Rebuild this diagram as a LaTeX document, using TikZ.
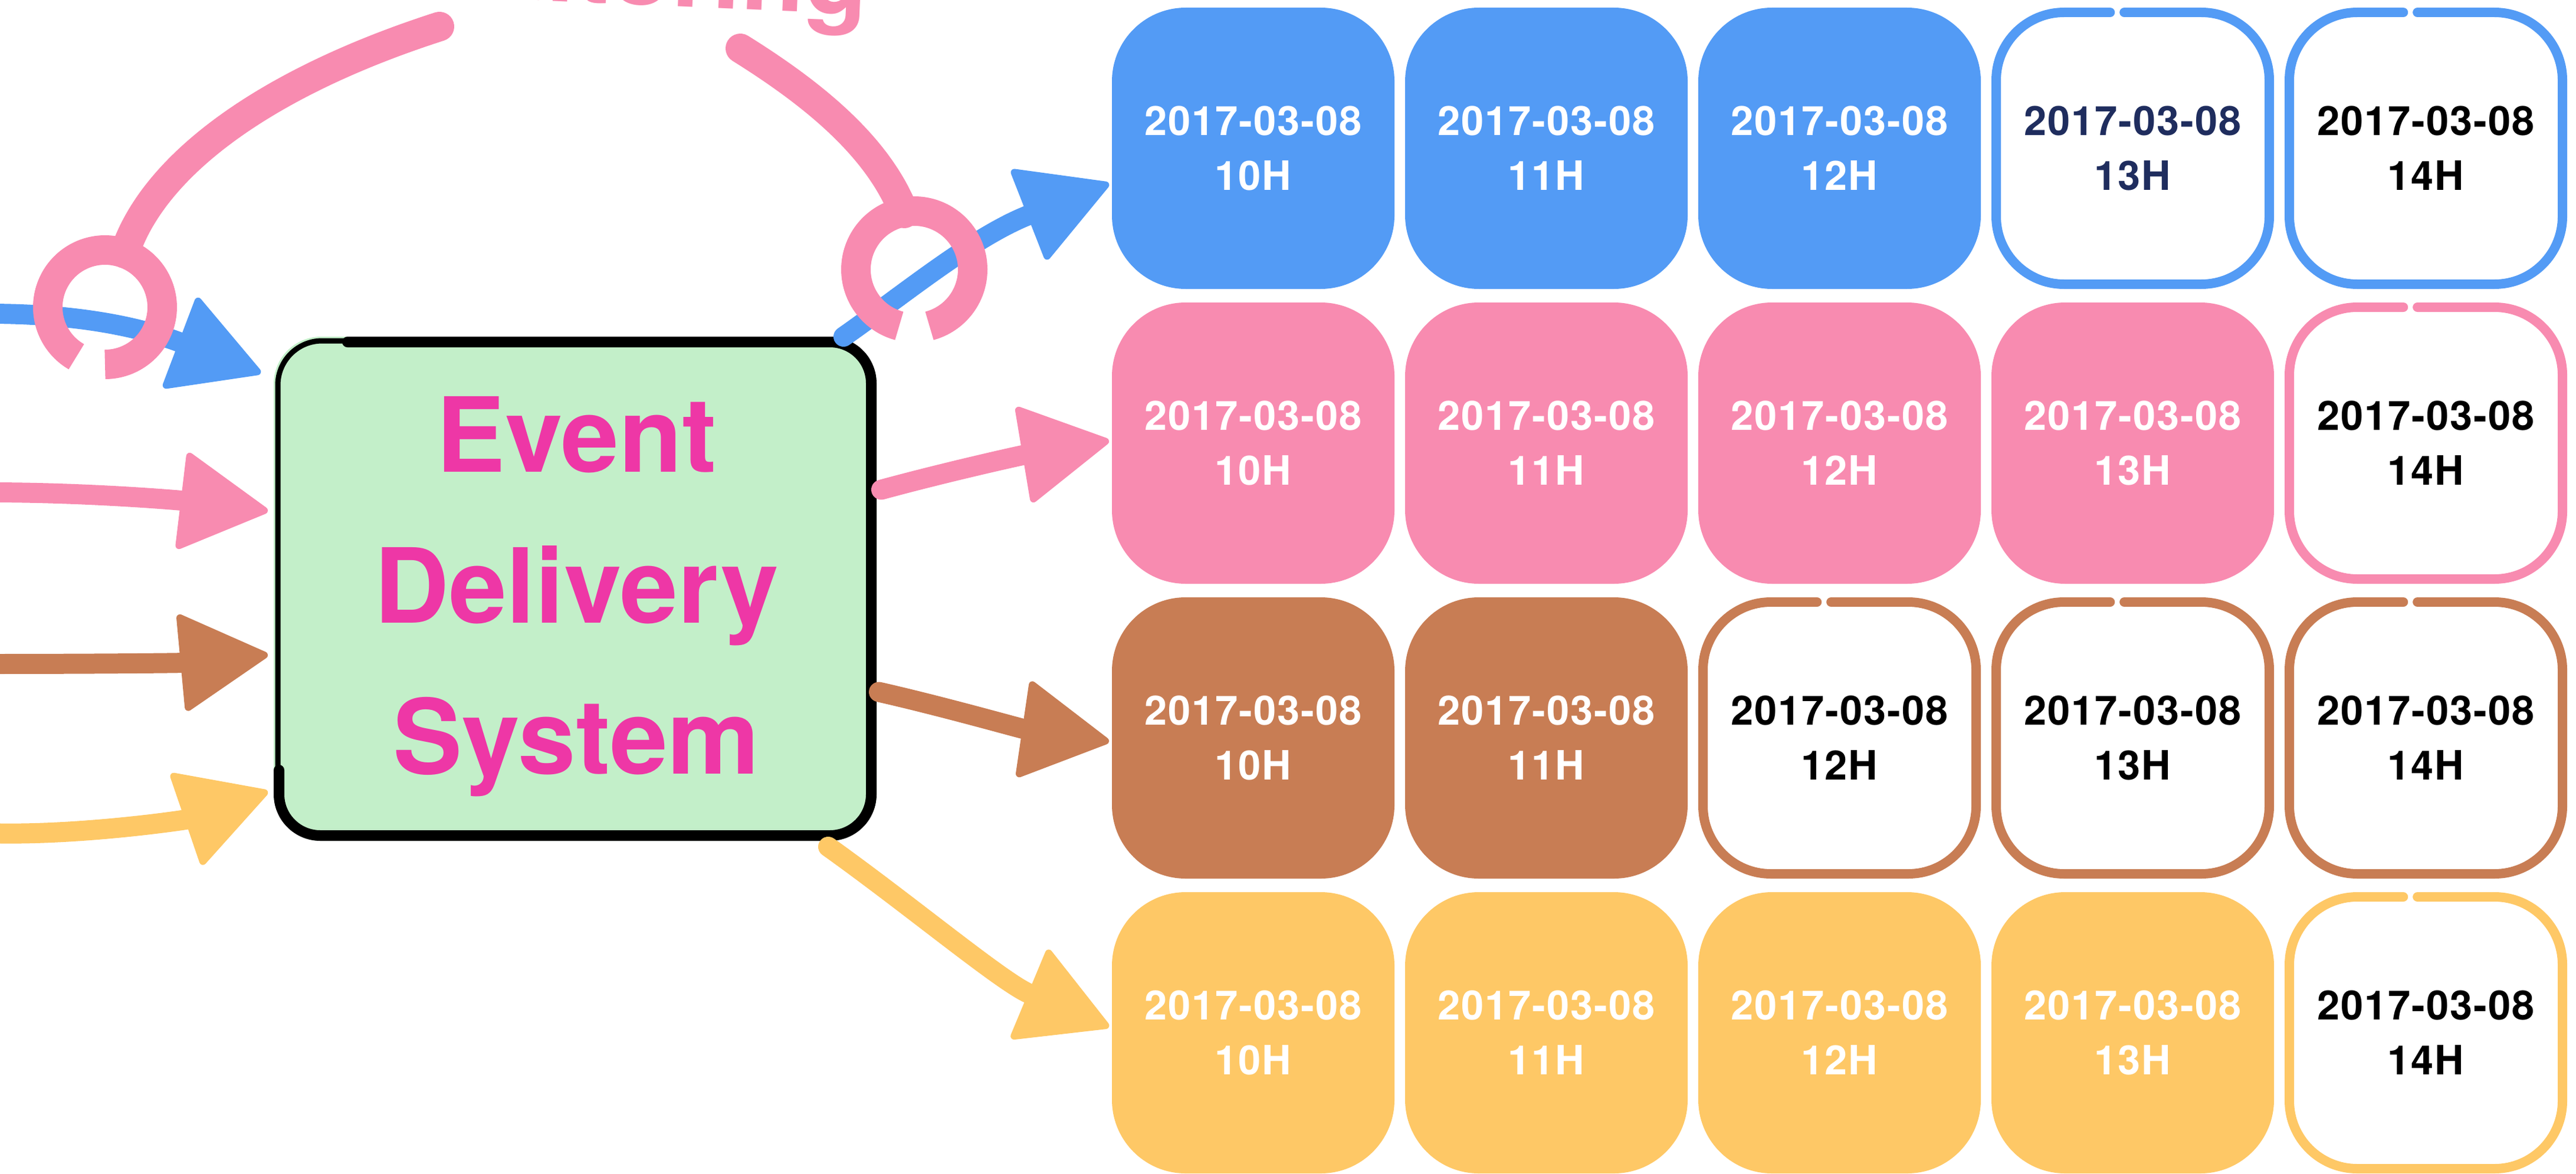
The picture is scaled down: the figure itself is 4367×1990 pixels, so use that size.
\documentclass[tikz,border=0pt]{standalone}
\usepackage{fontspec}
\setmainfont{TeX Gyre Heros}
\newfontfamily\tilefont{TeX Gyre Heros}[LetterSpace=3]
\usetikzlibrary{arrows.meta,calc}
\definecolor{cblue}{RGB}{83,155,245}
\definecolor{cpink}{RGB}{248,139,176}
\definecolor{cbrown}{RGB}{200,125,84}
\definecolor{cyellow}{RGB}{254,200,102}
\definecolor{cgreen}{RGB}{195,239,201}
\definecolor{cmagenta}{RGB}{238,55,166}
\definecolor{cnavy}{RGB}{31,45,94}
\newcommand\ftile[5]{\node[filledtile=#4] (#1) at (#2,#3) {2017-03-08\\#5};}
\newcommand\otile[6]{\node[opentile, text=#5] (#1) at (#2,#3) {2017-03-08\\#6};
  \draw[outline=#4] ($(#1.north west)!0.47!(#1.north east)+(0,8)$) -- ($(#1.north east)+(-8,8)$) -- ($(#1.south east)+(-8,-8)$) -- ($(#1.south west)+(8,-8)$) -- ($(#1.north west)+(8,8)$) -- ($(#1.north west)!0.42!(#1.north east)+(0,8)$);}
\begin{document}
\begin{tikzpicture}[x=0.1mm,y=-0.1mm,
  brush/.style={line width=3.4mm, line cap=round, line join=round},
  tipstyle/.style={-{Triangle[length=15.5mm,width=17mm,round,line width=1.2mm]}},
  arm/.style={draw=cpink, line width=5mm, line cap=round},
  ring/.style={draw=cpink, line width=5mm, line cap=butt},
  tilebase/.style={minimum width=47.9mm, minimum height=47.7mm, inner sep=0pt, outer sep=0pt, align=center, font=\fontsize{19.5}{26.4}\selectfont\tilefont\bfseries},
  filledtile/.style={tilebase, fill=#1, rounded corners=12.5mm, text=white},
  opentile/.style={tilebase},
  outline/.style={draw=#1, line width=1.6mm, rounded corners=11.5mm, line cap=round},
  bigtext/.style={font=\fontsize{50}{72.8}\selectfont\bfseries, inner sep=0pt, outer sep=0pt}
]
\path[use as bounding box] (0,0) rectangle (4367,1990);
\clip (0,0) rectangle (4367,1990);

% tiles
\ftile{b10}{2124.5}{251.5}{cblue}{10H}
\ftile{b11}{2621.5}{251.5}{cblue}{11H}
\ftile{b12}{3118.5}{251.5}{cblue}{12H}
\otile{b13}{3615.5}{251.5}{cblue}{cnavy}{13H}
\otile{b14}{4112.5}{251.5}{cblue}{black}{14H}
\ftile{p10}{2124.5}{751.5}{cpink}{10H}
\ftile{p11}{2621.5}{751.5}{cpink}{11H}
\ftile{p12}{3118.5}{751.5}{cpink}{12H}
\ftile{p13}{3615.5}{751.5}{cpink}{13H}
\otile{p14}{4112.5}{751.5}{cpink}{black}{14H}
\ftile{n10}{2124.5}{1251.5}{cbrown}{10H}
\ftile{n11}{2621.5}{1251.5}{cbrown}{11H}
\otile{n12}{3118.5}{1251.5}{cbrown}{black}{12H}
\otile{n13}{3615.5}{1251.5}{cbrown}{black}{13H}
\otile{n14}{4112.5}{1251.5}{cbrown}{black}{14H}
\ftile{y10}{2124.5}{1751.5}{cyellow}{10H}
\ftile{y11}{2621.5}{1751.5}{cyellow}{11H}
\ftile{y12}{3118.5}{1751.5}{cyellow}{12H}
\ftile{y13}{3615.5}{1751.5}{cyellow}{13H}
\otile{y14}{4112.5}{1751.5}{cyellow}{black}{14H}

% event delivery system box
\node[fill=cgreen, rounded corners=8mm, minimum width=102.2mm, minimum height=85.5mm, inner sep=0pt, outer sep=0pt] (eds) at (975,998.5) {};
\draw[line width=1.8mm, rounded corners=7mm, line cap=round]
  ($(eds.north west)+(125,9)$) -- ($(eds.north east)+(-9,9)$) -- ($(eds.south east)+(-9,-9)$) -- ($(eds.south west)+(9,-9)$) -- ($(eds.south west)+(9,-120)$);
\draw[line width=0.9mm, rounded corners=7.5mm]
  ($(eds.south west)+(7,-120)$) -- ($(eds.north west)+(7,7)$) -- ($(eds.north west)+(130,7)$);
\node[bigtext, text=cmagenta, align=center] (edstext) at (977,1012) {Event\\Delivery\\System};

% free ends of incoming streams
\coordinate (srcB) at (-20,532);
\coordinate (srcP) at (-20,835);
\coordinate (srcN) at (-20,1126);
\coordinate (srcY) at (-20,1413);

% incoming arrows
\draw[brush, tipstyle, draw=cblue, fill=cblue] (srcB) .. controls +(170,0) and +(-190,-72) .. ($(eds.west)+(-22,-366)$);
\draw[brush, tipstyle, draw=cpink, fill=cpink] (srcP) .. controls +(170,0) and +(-150,-18) .. ($(eds.west)+(-10,-132)$);
\draw[brush, tipstyle, draw=cbrown, fill=cbrown] (srcN) .. controls +(170,0) and +(-150,14) .. ($(eds.west)+(-10,112)$);
\draw[brush, tipstyle, draw=cyellow, fill=cyellow] (srcY) .. controls +(150,5) and +(-140,48) .. ($(eds.west)+(-10,344)$);

% outgoing arrows
\draw[brush, tipstyle, draw=cblue, fill=cblue] ($(eds.north east)+(-56,0)$) .. controls +(100,-70) and +(-230,90) .. ($(b10.west)+(-5,60)$);
\draw[brush, tipstyle, draw=cpink, fill=cpink] ($(eds.east)+(8,-168)$) .. controls +(110,-30) and +(-150,25) .. ($(p10.west)+(-5,-4)$);
\draw[brush, tipstyle, draw=cbrown, fill=cbrown] ($(eds.east)+(4,175)$) .. controls +(110,25) and +(-150,-22) .. ($(n10.west)+(-5,6)$);
\draw[brush, tipstyle, draw=cyellow, fill=cyellow] ($(eds.south east)+(-82,10)$) .. controls +(140,100) and +(-180,-75) .. ($(y10.west)+(-5,-10)$);

% monitoring probes
\coordinate (ringL) at (178,521);
\coordinate (ringR) at (1550,457);
\node[bigtext, text=cpink, anchor=base east, rotate=-2.5] (mon) at (1470,25) {Monitoring};
\draw[arm] (745,45) .. controls (450,140) and (260,280) .. ($(ringL)+(33,-91)$);
\draw[arm] (1255,82) .. controls (1380,160) and (1490,250) .. ($(ringR)+(-17,-95)$);
\draw[ring] plot[domain=120:450, samples=80, smooth] ({178+97*cos(\x)}, {521+97*sin(\x)});
\draw[ring] plot[domain=105:435, samples=80, smooth] ({1550+99*cos(\x)}, {457+99*sin(\x)});
\end{tikzpicture}
\end{document}
